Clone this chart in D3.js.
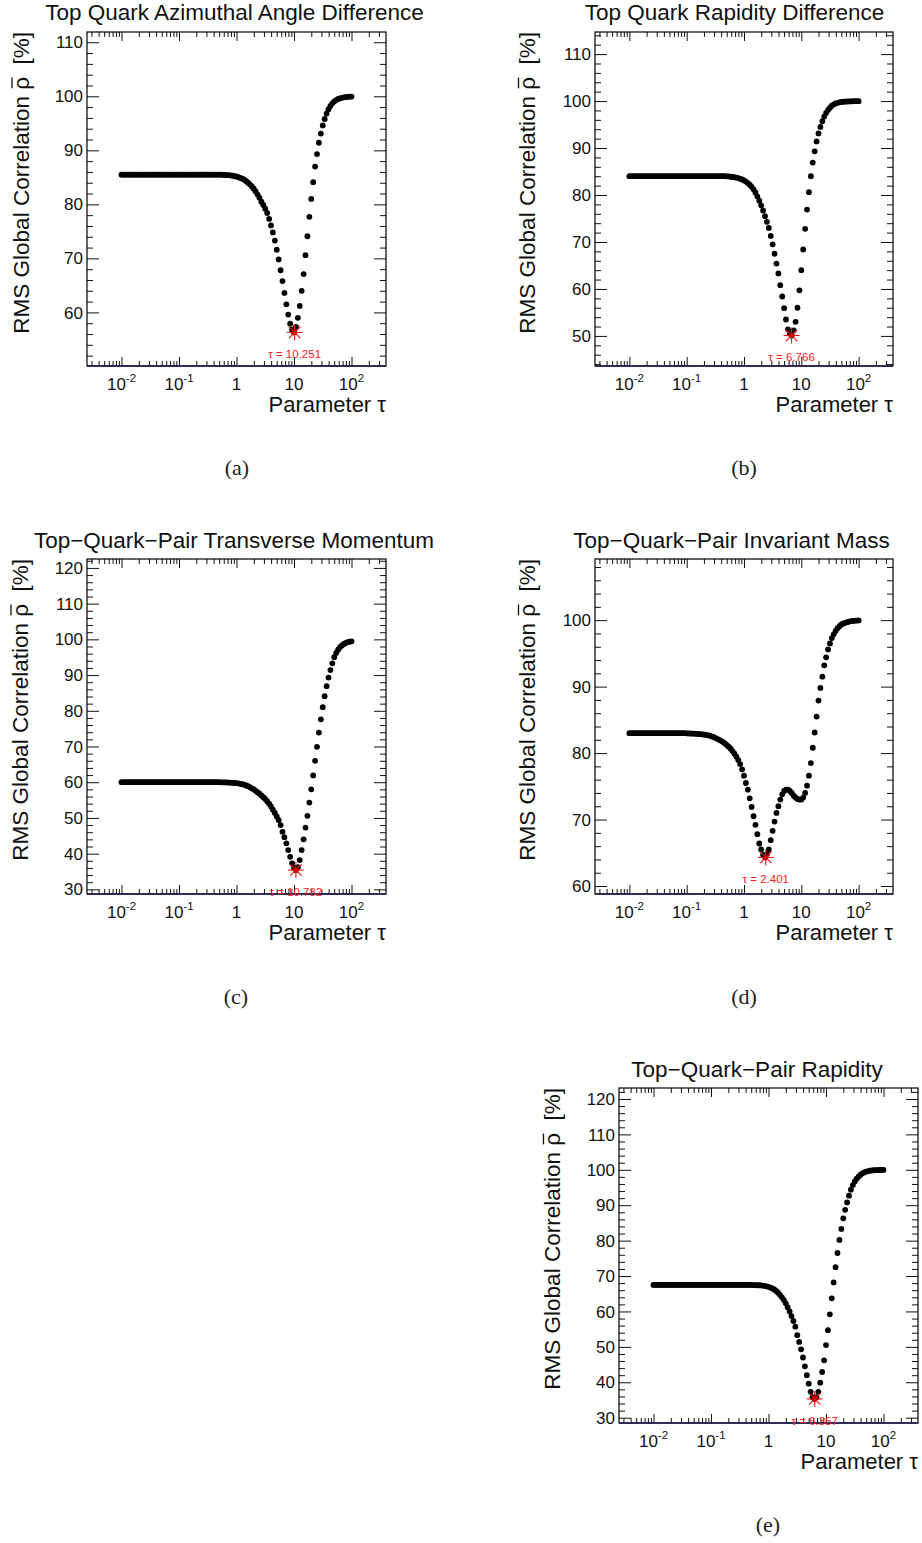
<!DOCTYPE html>
<html><head><meta charset="utf-8">
<script src="https://cdn.jsdelivr.net/npm/d3@7"></script>
<style>
body{margin:0;background:#fff;}
svg{display:block;font-family:"Liberation Sans",Arial,Helvetica,sans-serif;}
</style>
</head><body>
<svg id="chart" width="922" height="1543"></svg>
<script>
// ---------- DATA ----------
// log10 of the scanned regularisation parameter tau (shared by all scans)
const scanLogTau = [
-2,-1.967,-1.933,-1.9,-1.867,-1.833,-1.8,-1.767,-1.733,-1.7,
-1.667,-1.633,-1.6,-1.567,-1.533,-1.5,-1.467,-1.433,-1.4,-1.367,
-1.333,-1.3,-1.267,-1.233,-1.2,-1.167,-1.133,-1.1,-1.067,-1.033,
-1,-0.967,-0.933,-0.9,-0.867,-0.833,-0.8,-0.767,-0.733,-0.7,
-0.667,-0.633,-0.6,-0.567,-0.533,-0.5,-0.467,-0.433,-0.4,-0.367,
-0.333,-0.3,-0.267,-0.233,-0.2,-0.167,-0.133,-0.1,-0.067,-0.033,
0,0.033,0.067,0.1,0.133,0.167,0.2,0.233,0.267,0.3,
0.333,0.367,0.4,0.433,0.467,0.5,0.533,0.567,0.6,0.633,
0.667,0.7,0.733,0.767,0.8,0.833,0.867,0.9,0.933,0.967,
1,1.033,1.067,1.1,1.133,1.167,1.2,1.233,1.267,1.3,
1.333,1.367,1.4,1.433,1.467,1.5,1.533,1.567,1.6,1.633,
1.667,1.7,1.733,1.767,1.8,1.833,1.867,1.9,1.933,1.967,
2];

// RMS global correlation [%] at each scan point
const rhoAzimuthal = [
85.5,85.5,85.5,85.5,85.5,85.5,85.5,85.5,85.5,85.5,
85.5,85.5,85.5,85.5,85.5,85.5,85.5,85.5,85.5,85.5,
85.5,85.5,85.5,85.5,85.5,85.5,85.5,85.5,85.5,85.5,
85.5,85.5,85.5,85.5,85.5,85.5,85.5,85.5,85.5,85.5,
85.5,85.5,85.5,85.5,85.5,85.5,85.5,85.5,85.5,85.5,
85.5,85.5,85.5,85.45,85.45,85.4,85.4,85.35,85.3,85.2,
85.15,85.05,84.9,84.75,84.55,84.3,84.0,83.7,83.3,82.9,
82.4,81.8,81.2,80.5,79.9,79.2,78.4,77.3,76.1,74.8,
73.3,71.6,69.8,67.8,65.8,63.6,61.5,59.6,57.9,56.8,
56.3,57.3,59.0,61.2,64.0,67.1,70.6,74.1,77.7,81.0,
84.1,87.0,89.3,91.4,93.1,94.6,95.8,96.8,97.6,98.2,
98.7,99.05,99.3,99.5,99.62,99.72,99.8,99.85,99.9,99.93,
99.95];

const rhoRapidityDiff = [
84.0,84.0,84.0,84.0,84.0,84.0,84.0,84.0,84.0,84.0,
84.0,84.0,84.0,84.0,84.0,84.0,84.0,84.0,84.0,84.0,
84.0,84.0,84.0,84.0,84.0,84.0,84.0,84.0,84.0,84.0,
84.0,84.0,84.0,84.0,84.0,84.0,84.0,84.0,84.0,84.0,
84.0,84.0,84.0,84.0,84.0,84.0,84.0,84.0,84.0,84.0,
84.0,83.97,83.95,83.9,83.85,83.8,83.7,83.6,83.45,83.3,
83.1,82.85,82.55,82.2,81.75,81.2,80.5,79.7,78.8,77.8,
76.7,75.5,74.3,73.0,71.3,69.5,67.5,65.4,63.3,60.8,
58.4,55.9,53.5,51.4,50.5,50.1,51.2,53.0,56.0,59.7,
64.0,68.4,72.8,76.9,80.6,84.0,86.9,89.3,91.4,93.1,
94.5,95.7,96.7,97.5,98.1,98.6,99.0,99.3,99.5,99.62,
99.72,99.8,99.85,99.88,99.91,99.93,99.95,99.96,99.97,99.98,
99.98];

const rhoPairPt = [
60.0,60.0,60.0,60.0,60.0,60.0,60.0,60.0,60.0,60.0,
60.0,60.0,60.0,60.0,60.0,60.0,60.0,60.0,60.0,60.0,
60.0,60.0,60.0,60.0,60.0,60.0,60.0,60.0,60.0,60.0,
60.0,60.0,60.0,60.0,60.0,60.0,60.0,60.0,60.0,60.0,
60.0,60.0,60.0,60.0,60.0,60.0,60.0,60.0,60.0,60.0,
60.0,60.0,59.98,59.97,59.95,59.93,59.9,59.87,59.83,59.78,
59.72,59.65,59.55,59.45,59.3,59.1,58.9,58.6,58.3,58.0,
57.6,57.2,56.8,56.3,55.8,55.3,54.7,54.0,53.2,52.3,
51.4,50.4,49.4,48.0,46.1,44.6,42.9,41.0,39.1,37.3,
36.0,35.4,36.2,38.2,41.0,44.0,47.3,50.6,54.3,58.0,
61.9,66.0,69.9,73.9,77.6,81.0,84.1,86.9,89.3,91.4,
93.3,95.0,96.2,97.1,97.8,98.3,98.7,99.0,99.2,99.35,
99.45];

const rhoPairMass = [
83.0,83.0,83.0,83.0,83.0,83.0,83.0,83.0,83.0,83.0,
83.0,83.0,83.0,83.0,83.0,83.0,83.0,83.0,83.0,83.0,
83.0,83.0,83.0,83.0,83.0,83.0,83.0,83.0,83.0,83.0,
82.97,82.96,82.95,82.94,82.92,82.9,82.88,82.86,82.83,82.8,
82.75,82.7,82.62,82.52,82.42,82.3,82.15,82.0,81.85,81.65,
81.45,81.2,80.95,80.65,80.3,79.9,79.45,78.95,78.35,77.55,
76.6,75.5,74.5,73.2,71.9,70.5,69.2,67.8,66.4,65.5,
64.7,64.3,64.8,65.5,66.9,68.3,69.7,71.0,72.0,73.0,
73.8,74.3,74.5,74.5,74.3,74.0,73.6,73.3,73.1,73.0,
73.0,73.3,74.0,75.1,76.6,78.5,80.8,83.1,85.5,87.9,
89.8,91.5,93.2,94.4,95.6,96.5,97.3,97.9,98.4,98.8,
99.1,99.35,99.5,99.6,99.7,99.78,99.84,99.88,99.92,99.94,
99.96];

const rhoPairRapidity = [
67.5,67.5,67.5,67.5,67.5,67.5,67.5,67.5,67.5,67.5,
67.5,67.5,67.5,67.5,67.5,67.5,67.5,67.5,67.5,67.5,
67.5,67.5,67.5,67.5,67.5,67.5,67.5,67.5,67.5,67.5,
67.5,67.5,67.5,67.5,67.5,67.5,67.5,67.5,67.5,67.5,
67.5,67.5,67.5,67.5,67.5,67.5,67.5,67.5,67.5,67.5,
67.5,67.5,67.45,67.45,67.4,67.4,67.35,67.3,67.2,67.1,
66.95,66.75,66.5,66.2,65.8,65.3,64.7,64.0,63.2,62.3,
61.2,60.0,58.7,57.3,55.7,53.3,51.4,49.3,47.0,44.5,
42.0,39.6,37.3,35.8,35.3,35.8,37.3,39.9,42.9,46.2,
50.5,54.7,59.2,63.7,68.2,72.5,76.5,80.2,83.3,86.3,
88.7,90.8,92.7,94.4,95.7,96.7,97.5,98.1,98.6,99.0,
99.3,99.5,99.65,99.75,99.82,99.87,99.9,99.93,99.95,99.96,
99.97];

const titles = [
  "Top Quark Azimuthal Angle Difference",
  "Top Quark Rapidity Difference",
  "Top\u2212Quark\u2212Pair Transverse Momentum",
  "Top\u2212Quark\u2212Pair Invariant Mass",
  "Top\u2212Quark\u2212Pair Rapidity"
];
const captions = ["(a)", "(b)", "(c)", "(d)", "(e)"];
const bestTau = [10.251, 6.766, 10.782, 2.401, 6.357];
const bestRho = [56.3, 50.1, 35.4, 64.3, 35.3];
const bestLabels = ["\u03c4 = 10.251", "\u03c4 = 6.766", "\u03c4 = 10.782", "\u03c4 = 2.401", "\u03c4 = 6.357"];
const xMajorTicks = [0.01, 0.1, 1, 10, 100];
const xTickBase = ["10", "10", "1", "10", "10"];
const xTickExp = ["-2", "-1", "", "", "2"];
const yAxisTitleHead = "RMS Global Correlation ";
const yAxisTitleSym = "\u03c1";          // drawn with an overbar
const yAxisTitleTail = "  [%]";
const xAxisTitle = "Parameter \u03c4";

// ---------- LAYOUT ----------
const series = [rhoAzimuthal, rhoRapidityDiff, rhoPairPt, rhoPairMass, rhoPairRapidity];
const layout = [
  {l:87,  r:386, t:32,   b:366,  yDom:[50.08,111.9], titleX:234.5, titleY:20,   yLabX:28.5,  capX:237, capY:475},
  {l:595, r:893, t:32,   b:366,  yDom:[43.6,114.7],  titleX:734.5, titleY:20,   yLabX:535,   capX:744, capY:475},
  {l:87,  r:386, t:559,  b:894,  yDom:[28.7,122.5],  titleX:234,   titleY:548,  yLabX:27.5,  capX:236, capY:1004},
  {l:595, r:893, t:559,  b:894,  yDom:[58.8,109.2],  titleX:731.5, titleY:548,  yLabX:535,   capX:744, capY:1004},
  {l:619, r:918, t:1088, b:1423, yDom:[28.5,123.1],  titleX:757,   titleY:1077, yLabX:560,   capX:768, capY:1532}
];
const xDom = [Math.pow(10,-2.6), Math.pow(10,2.6)];

const svg = d3.select("#chart");

layout.forEach((L, k) => {
  const g = svg.append("g");
  const x = d3.scaleLog().domain(xDom).range([L.l, L.r]);
  const y = d3.scaleLinear().domain(L.yDom).range([L.b, L.t]);

  const xMinor = [];
  for (let d = -3; d <= 2; d++) for (let m = 2; m <= 9; m++) {
    const v = m * Math.pow(10, d);
    if (v > xDom[0] && v < xDom[1]) xMinor.push(v);
  }
  const yMajor = [], yMinor = [];
  for (let v = Math.ceil(L.yDom[0]/2)*2; v <= L.yDom[1]; v += 2) {
    if (v % 10 === 0) yMajor.push(v); else yMinor.push(v);
  }

  const addAxis = (axis, tr) => {
    const a = g.append("g").attr("transform", tr).call(axis);
    a.select(".domain").remove();
    a.selectAll(".tick line").attr("stroke", "#111").attr("stroke-width", 1);
    a.selectAll(".tick text").remove();
  };
  addAxis(d3.axisBottom(x).tickValues(xMajorTicks).tickSize(-9).tickFormat(""), `translate(0,${L.b})`);
  addAxis(d3.axisBottom(x).tickValues(xMinor).tickSize(-5).tickFormat(""), `translate(0,${L.b})`);
  addAxis(d3.axisTop(x).tickValues(xMajorTicks).tickSize(-9).tickFormat(""), `translate(0,${L.t})`);
  addAxis(d3.axisTop(x).tickValues(xMinor).tickSize(-5).tickFormat(""), `translate(0,${L.t})`);
  addAxis(d3.axisLeft(y).tickValues(yMajor).tickSize(-12).tickFormat(""), `translate(${L.l},0)`);
  addAxis(d3.axisLeft(y).tickValues(yMinor).tickSize(-6).tickFormat(""), `translate(${L.l},0)`);
  addAxis(d3.axisRight(y).tickValues(yMajor).tickSize(-12).tickFormat(""), `translate(${L.r},0)`);
  addAxis(d3.axisRight(y).tickValues(yMinor).tickSize(-6).tickFormat(""), `translate(${L.r},0)`);

  // frame
  g.append("rect").attr("x", L.l).attr("y", L.t).attr("width", L.r - L.l).attr("height", L.b - L.t)
    .attr("fill", "none").attr("stroke", "#000").attr("stroke-width", 1.2);
  g.append("line").attr("x1", L.l).attr("x2", L.r).attr("y1", L.b).attr("y2", L.b)
    .attr("stroke", "#1c1c55").attr("stroke-width", 1.6);

  // y tick labels
  g.selectAll("text.yl").data(yMajor).enter().append("text")
    .attr("x", L.l - 4).attr("y", d => y(d)).attr("dy", "0.36em")
    .attr("text-anchor", "end").attr("font-size", 17).attr("fill", "#111").text(d => d);

  // x tick labels
  xMajorTicks.forEach((v, i) => {
    const t = g.append("text").attr("x", x(v)).attr("y", L.b + 23.5)
      .attr("text-anchor", "middle").attr("font-size", 17).attr("fill", "#111");
    t.append("tspan").text(xTickBase[i]);
    if (xTickExp[i]) t.append("tspan").attr("dy", -8).attr("font-size", 11.5).text(xTickExp[i]);
  });

  // axis titles
  g.append("text").attr("x", L.r).attr("y", L.b + 46).attr("text-anchor", "end")
    .attr("font-size", 22).attr("fill", "#111").text(xAxisTitle);
  const yg = g.append("g").attr("transform", `translate(${L.yLabX},${L.t}) rotate(-90)`);
  const yt = yg.append("text").attr("x", 0).attr("y", 0)
    .attr("text-anchor", "end").attr("font-size", 22.5).attr("fill", "#111")
    .style("white-space", "pre").text(yAxisTitleHead + yAxisTitleSym + yAxisTitleTail);
  const ci = yAxisTitleHead.length;
  const p0 = yt.node().getStartPositionOfChar(ci);
  const p1 = yt.node().getEndPositionOfChar(ci);
  yg.append("line").attr("x1", p0.x + 1.5).attr("x2", p1.x - 0.5).attr("y1", -16.5).attr("y2", -16.5)
    .attr("stroke", "#111").attr("stroke-width", 1.3);

  // title
  g.append("text").attr("x", L.titleX).attr("y", L.titleY).attr("text-anchor", "middle")
    .attr("font-size", 22.5).attr("fill", "#111").text(titles[k]);

  // caption
  g.append("text").attr("x", L.capX).attr("y", L.capY).attr("text-anchor", "middle")
    .attr("font-family", "'Liberation Serif','DejaVu Serif',serif").attr("font-size", 22)
    .attr("fill", "#222").text(captions[k]);

  // points
  const pts = scanLogTau.map((lt, i) => ({tau: Math.pow(10, lt), rho: series[k][i]}));
  g.selectAll("circle.pt").data(pts).enter().append("circle")
    .attr("cx", d => x(d.tau)).attr("cy", d => y(d.rho)).attr("r", 2.9).attr("fill", "#000");

  // best point: red asterisk
  const bx = x(bestTau[k]), by = y(bestRho[k]);
  const R = 8, D = R / Math.SQRT2;
  const segs = [[-R,0,R,0],[0,-R,0,R],[-D,-D,D,D],[-D,D,D,-D]];
  g.selectAll("line.star").data(segs).enter().append("line")
    .attr("x1", s => bx + s[0]).attr("y1", s => by + s[1]).attr("x2", s => bx + s[2]).attr("y2", s => by + s[3])
    .attr("stroke", "#ff1010").attr("stroke-width", 1.1);
  g.append("circle").attr("cx", bx).attr("cy", by).attr("r", 2.3).attr("fill", "#e00000");
  g.append("text").attr("x", bx).attr("y", by + 26).attr("text-anchor", "middle")
    .attr("font-size", 11.5).attr("fill", "#ff2020").text(bestLabels[k]);
});
</script>
</body></html>
